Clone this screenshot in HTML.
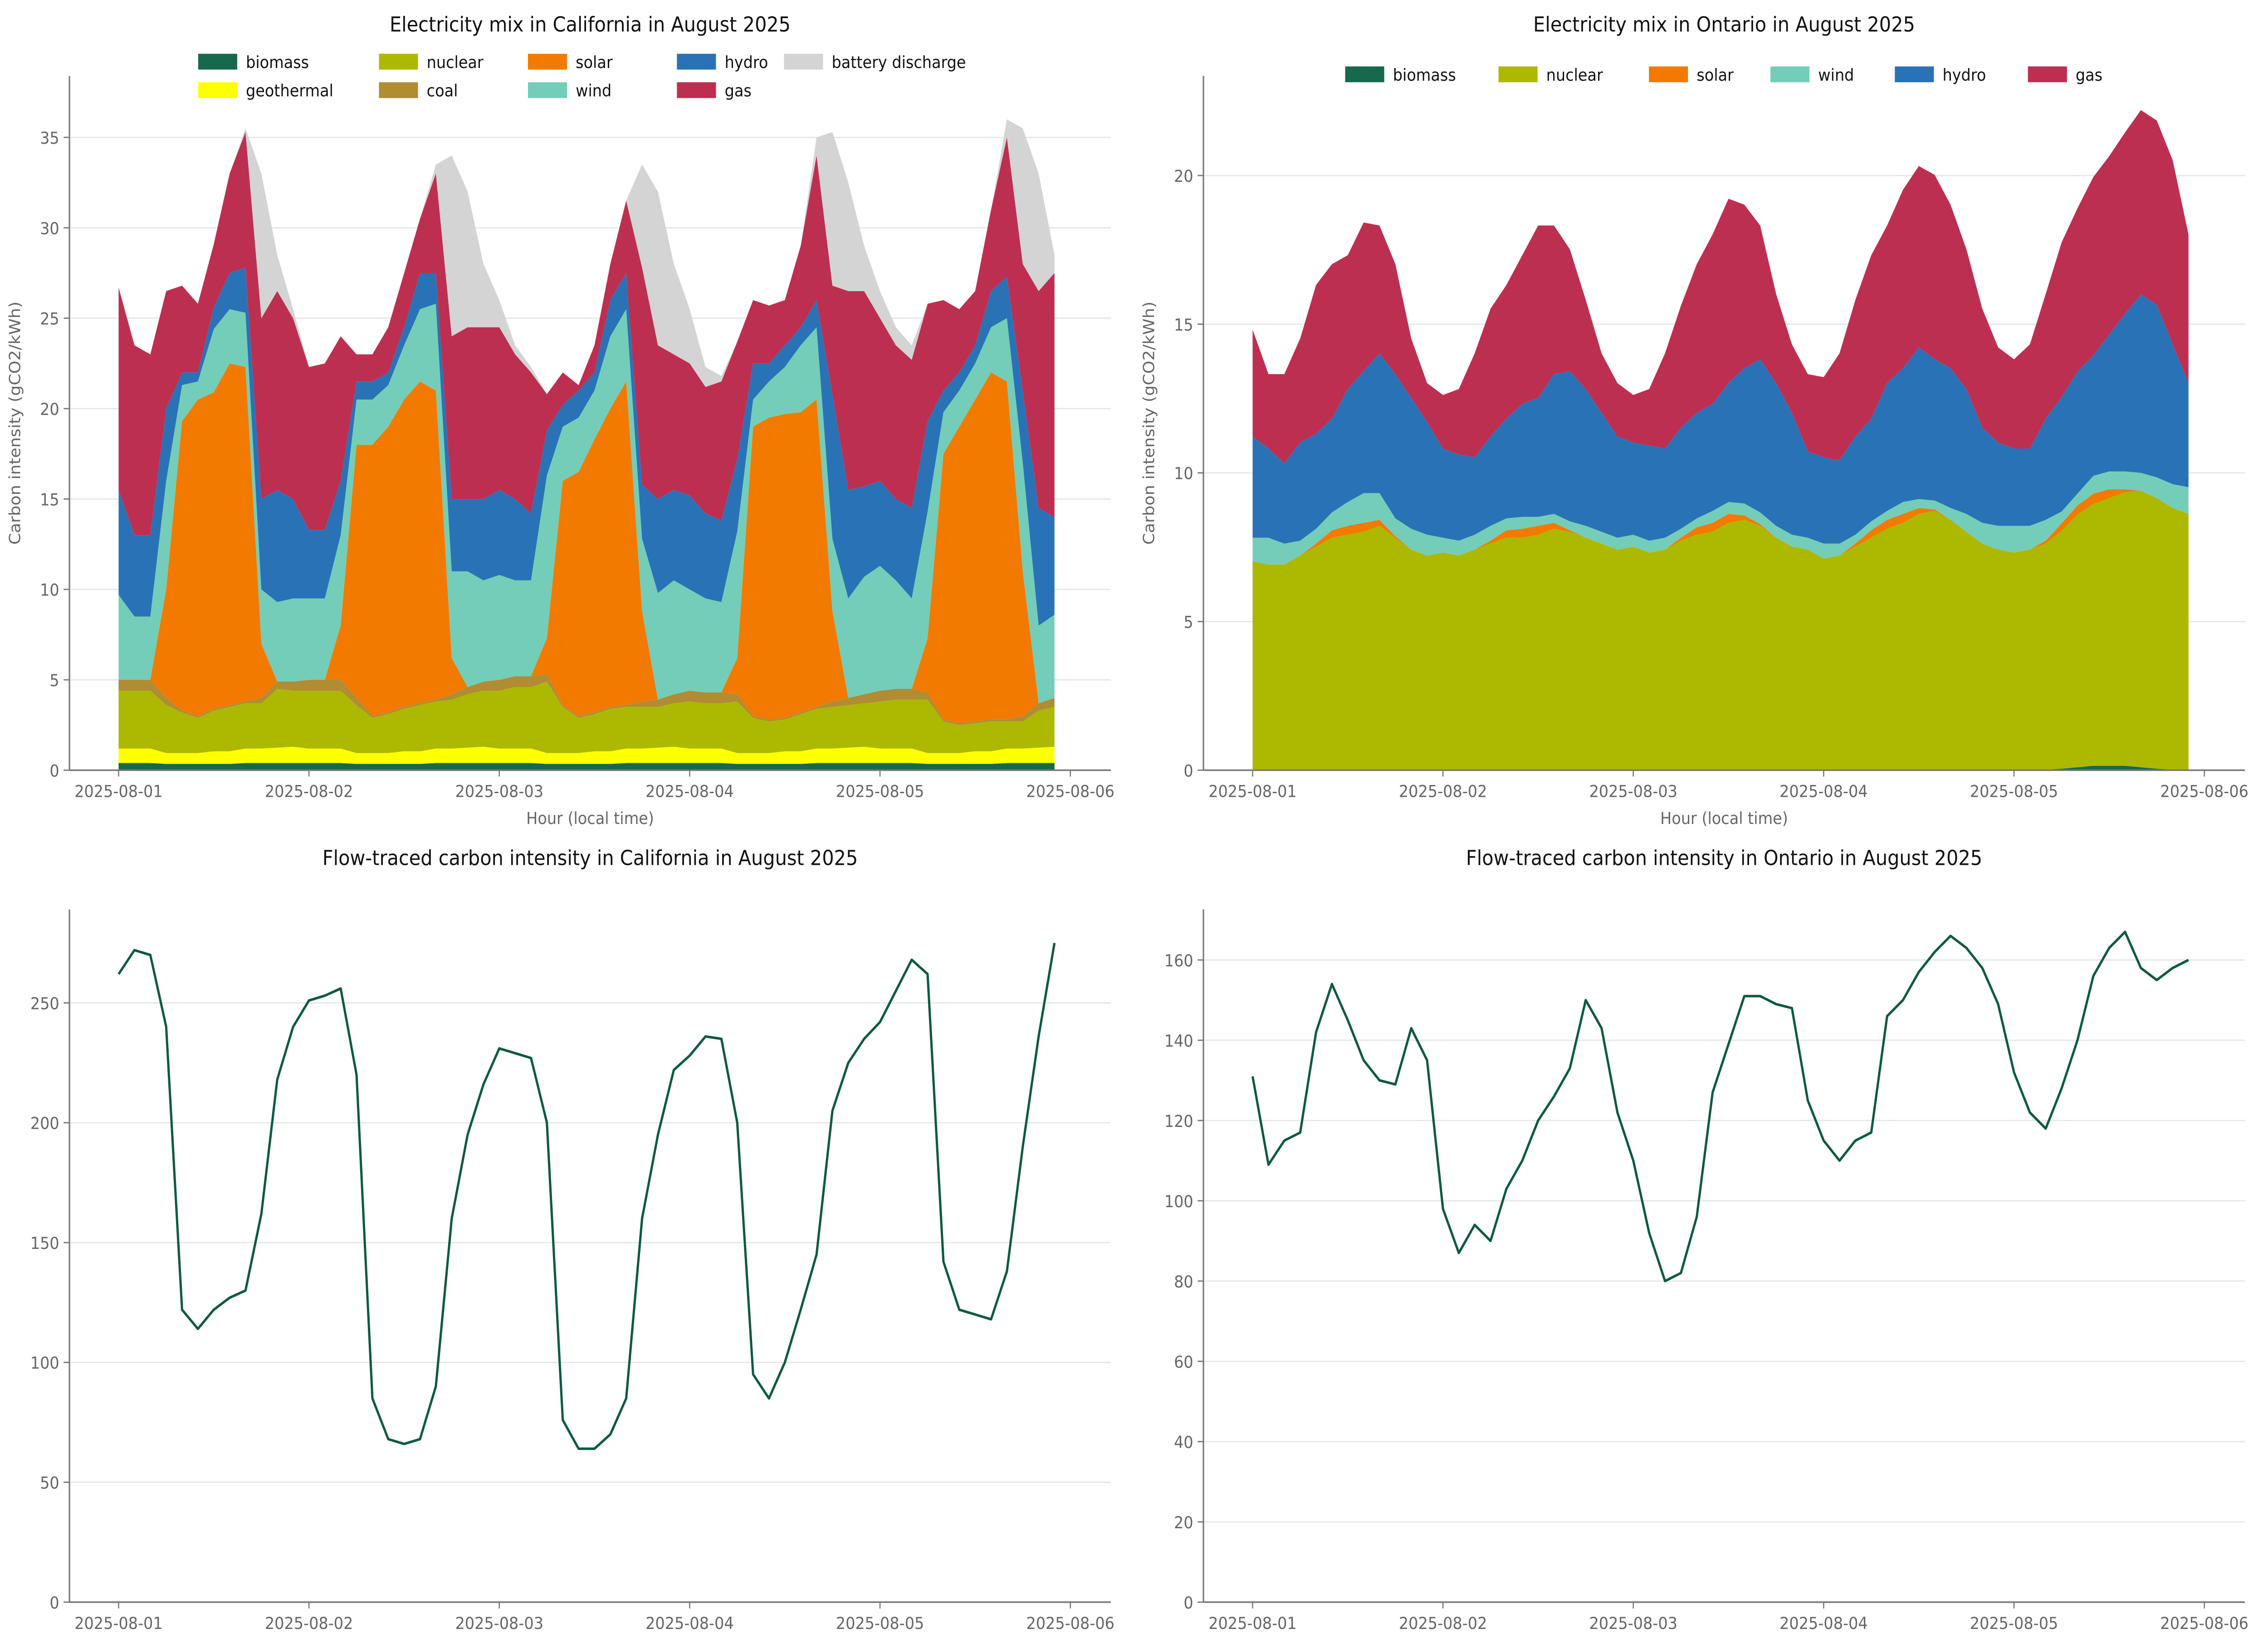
<!DOCTYPE html>
<html><head><meta charset="utf-8"><style>
html,body{margin:0;padding:0;background:#fff;overflow:hidden;width:100%;height:100%;}
svg{display:block;position:absolute;left:0;top:0;width:100vw;height:100vh;font-family:"DejaVu Sans","Liberation Sans",sans-serif;}
</style></head><body>
<svg id="fig" viewBox="0 0 1568 1042" preserveAspectRatio="none" xmlns="http://www.w3.org/2000/svg"></svg>
<script>
// ---------- data ----------
const xTickLabels = ["2025-08-01","2025-08-02","2025-08-03","2025-08-04","2025-08-05","2025-08-06"];
const xTickHours = [0,24,48,72,96,120];
const hours2 = [0,2,4,6,8,10,12,14,16,18,20,22,24,26,28,30,32,34,36,38,40,42,44,46,48,50,52,54,56,58,60,62,64,66,68,70,72,74,76,78,80,82,84,86,88,90,92,94,96,98,100,102,104,106,108,110,112,114,116,118];

// California stacked (gCO2/kWh)
const caBiomass = [.4,.4,.4,.35,.35,.35,.35,.35,.4,.4,.4,.4, .4,.4,.4,.35,.35,.35,.35,.35,.4,.4,.4,.4, .4,.4,.4,.35,.35,.35,.35,.35,.4,.4,.4,.4, .4,.4,.4,.35,.35,.35,.35,.35,.4,.4,.4,.4, .4,.4,.4,.35,.35,.35,.35,.35,.4,.4,.4,.4];
const caGeothermal = [.8,.8,.8,.6,.6,.6,.7,.7,.8,.8,.85,.9, .8,.8,.8,.6,.6,.6,.7,.7,.8,.8,.85,.9, .8,.8,.8,.6,.6,.6,.7,.7,.8,.8,.85,.9, .8,.8,.8,.6,.6,.6,.7,.7,.8,.8,.85,.9, .8,.8,.8,.6,.6,.6,.7,.7,.8,.8,.85,.9];
const caNuclear = [3.2,3.2,3.2,2.65,2.25,1.95,2.25,2.45,2.5,2.5,3.25,3.1, 3.2,3.2,3.2,2.65,1.95,2.15,2.35,2.55,2.6,2.7,2.95,3.1, 3.2,3.4,3.4,3.95,2.55,1.95,2.05,2.35,2.3,2.3,2.25,2.4, 2.6,2.5,2.5,2.85,1.95,1.75,1.75,2.05,2.2,2.3,2.35,2.4, 2.6,2.7,2.7,2.95,1.75,1.55,1.55,1.65,1.5,1.5,2.05,2.2];
const caCoal = [.6,.6,.6,.4,.1,.1,.1,.1,.1,.3,.4,.5, .6,.6,.6,.4,.1,.1,.1,.1,.1,.3,.4,.5, .6,.6,.6,.4,.1,.1,.1,.1,.1,.3,.4,.5, .6,.6,.6,.4,.1,.1,.1,.1,.1,.3,.4,.5, .6,.6,.6,.4,.1,.1,.1,.1,.1,.3,.4,.5];
const caSolar = [0,0,0,6,16,17.5,17.5,18.9,18.5,3,0,0, 0,0,3,14,15,15.8,17,17.8,17.1,2,0,0, 0,0,0,2,12.4,13.5,15.1,16.5,17.9,5,0,0, 0,0,0,2,16,16.7,16.8,16.6,17,5,0,0, 0,0,0,3,14.7,16.4,17.8,19.2,18.7,8,0,0];
const caWind = [4.7,3.5,3.5,6,2,1,3.5,3,3,3,4.4,4.6, 4.5,4.5,5,2.5,2.5,2.3,3,4,4.8,4.8,6.4,5.6, 5.8,5.3,5.3,9,3,3,2.7,4,4,4,5.9,6.3, 5.6,5.2,5,7,1.5,2,2.6,3.7,4,4,5.5,6.5, 6.9,6,5,7,2.3,2,2,2.5,3.5,6,4.3,4.6];
const caHydro = [5.8,4.5,4.5,4,0.7,0.5,1.2,2,2.5,5,6.2,5.5, 3.8,3.8,3,1,1,0.7,1,2,1.7,4,4,4.5, 4.7,4.5,3.7,2.5,1.2,1.5,1,2,2,3,5.2,5, 5.2,4.7,4.5,4,2,1,1.2,1,1.5,8,6,5, 4.7,4.5,5,5,1.2,1,1,2,2.3,4,6.5,5.4];
const caGas = [11.2,10.5,10,6.5,4.8,3.8,3.5,5.5,7.5,10,11,10, 9,9.2,8,1.5,1.5,2.5,3,3,5.5,9,9.5,9.5, 9,8,7.8,2,1.8,0.3,1.5,2,4,12,8.5,7.5, 7.3,7,7.7,6.5,3.5,3.2,2.5,4.5,8,6,11,10.8, 9,8.5,8.2,6.5,5,3.5,3,4.5,7.7,7,12,13.5];
const caBattery = [0,0,0,0,0,0,0,0,0.2,8,2,0.5, 0,0,0,0,0,0,0,0,0.5,10,7.5,3.5, 1.5,0.5,0.3,0,0,0,0,0,0,5.7,8.5,5, 3,1.1,0.3,0,0,0,0,0,1,8.5,6,2.5, 1.5,1,0.8,0,0,0,0,0,1,7.5,6.5,1];

// Ontario stacked
const onBiomass = [.02,.02,.02,.02,.02,.02,.02,.02,.02,.02,.02,.02,.02,.02,.02,.02,.02,.02,.02,.02,.02,.02,.02,.02,.02,.02,.02,.02,.02,.02,.02,.02,.02,.02,.02,.02,.02,.02,.02,.02,.02,.02,.02,.02,.02,.02,.02,.02,.02,.02,.02,.05,.1,.15,.15,.15,.1,.05,.02,.02];
const onNuclear = [7.0,6.9,6.9,7.2,7.5,7.8,7.9,8.0,8.2,7.8,7.4,7.2,7.3,7.2,7.4,7.6,7.8,7.8,7.9,8.1,8.0,7.8,7.6,7.4,7.5,7.3,7.4,7.7,7.9,8.0,8.3,8.4,8.2,7.8,7.5,7.4,7.1,7.2,7.5,7.8,8.1,8.3,8.6,8.7,8.4,8.0,7.6,7.4,7.3,7.4,7.6,8.0,8.5,8.8,9.0,9.2,9.3,9.1,8.8,8.6];
const onSolar = [0,0,0,0,0.1,0.25,0.3,0.3,0.2,0.05,0,0,0,0,0,0.1,0.25,0.3,0.3,0.2,0.05,0,0,0,0,0,0,0.1,0.25,0.3,0.3,0.15,0.05,0,0,0,0,0,0.1,0.25,0.3,0.3,0.2,0.05,0,0,0,0,0,0,0.1,0.25,0.3,0.35,0.3,0.1,0,0,0,0];
const onWind = [0.8,0.9,0.7,0.5,0.5,0.6,0.8,1.0,0.9,0.6,0.7,0.7,0.5,0.5,0.5,0.5,0.4,0.4,0.3,0.3,0.3,0.4,0.4,0.4,0.4,0.4,0.4,0.3,0.3,0.4,0.4,0.4,0.4,0.4,0.4,0.4,0.5,0.4,0.3,0.3,0.3,0.4,0.3,0.3,0.4,0.6,0.7,0.8,0.9,0.8,0.7,0.4,0.4,0.6,0.6,0.6,0.6,0.7,0.8,0.9];
const onHydro = [3.4,3.0,2.7,3.3,3.2,3.15,3.8,4.1,4.7,4.85,4.4,3.8,3.0,2.9,2.6,3.0,3.35,3.8,4.0,4.7,5.05,4.6,4.0,3.4,3.1,3.2,3.0,3.4,3.55,3.6,4.0,4.55,5.15,4.8,4.1,2.9,2.9,2.8,3.3,3.45,4.3,4.5,5.1,4.75,4.7,4.2,3.2,2.8,2.6,2.6,3.4,3.85,4.1,4.05,4.6,5.3,6.0,5.8,4.7,3.5];
const onGas = [3.6,2.5,3.0,3.5,5.0,5.2,4.5,5.0,4.3,3.7,2.0,1.3,1.8,2.2,3.5,4.3,4.5,5.0,5.8,5.0,4.1,3.0,2.0,1.8,1.6,1.9,3.2,4.1,5.0,5.7,6.2,5.5,4.5,3.0,2.3,2.6,2.7,3.6,4.6,5.5,5.3,6.0,6.1,6.2,5.5,4.7,4.0,3.2,3.0,3.5,4.2,5.2,5.5,6.0,6.0,6.1,6.2,6.2,6.2,5.0];

// Flow-traced lines
const caFlow = [262,272,270,240,122,114,122,127,130,162,218,240,251,253,256,220,85,68,66,68,90,160,195,216,231,229,227,200,76,64,64,70,85,160,195,222,228,236,235,200,95,85,100,122,145,205,225,235,242,255,268,262,142,122,120,118,138,190,236,275];
const onFlow = [131,109,115,117,142,154,145,135,130,129,143,135,98,87,94,90,103,110,120,126,133,150,143,122,110,92,80,82,96,127,139,151,151,149,148,125,115,110,115,117,146,150,157,162,166,163,158,149,132,122,118,128,140,156,163,167,158,155,158,160];

// ---------- drawing ----------
const NS="http://www.w3.org/2000/svg";
const svg=document.getElementById('fig');
function el(tag,attrs,parent){const e=document.createElementNS(NS,tag);for(const k in attrs)e.setAttribute(k,attrs[k]);(parent||svg).appendChild(e);return e;}
function txt(s,attrs,parent){const e=el('text',attrs,parent);e.textContent=s;return e;}

function makeAxes(cfg){
  const g=el('g',{});
  
  
  const xs=h=>cfg.x0+(h/120)*(cfg.x120-cfg.x0);
  const ys=v=>cfg.yBottom-(v-0)/(cfg.ymax)*(cfg.yBottom-cfg.yTop);
  cfg.yTicks.forEach(v=>{
    if(v>0){const l=el('line',{x1:cfg.left,x2:cfg.right,y1:ys(v),y2:ys(v),stroke:'#e6e6e6','stroke-width':0.8},g);
      }
  });
  return {g,xs,ys};
}
function finishAxes(cfg,ax){
  const g=ax.g;
  const sp1=el('line',{x1:cfg.left,x2:cfg.left,y1:cfg.yTop,y2:cfg.yBottom,stroke:'#777','stroke-width':1},g);
  
  const sp2=el('line',{x1:cfg.left,x2:cfg.right,y1:cfg.yBottom,y2:cfg.yBottom,stroke:'#777','stroke-width':1},g);
  
  cfg.yTicks.forEach(v=>{
    const y=ax.ys(v);
    el('line',{x1:cfg.left-4,x2:cfg.left,y1:y,y2:y,stroke:'#777','stroke-width':0.8},g);
    const t=txt(String(v),{x:cfg.left-7,y:y+4,'font-size':10.5,fill:'#666','text-anchor':'end'},g);
    
  });
  xTickHours.forEach((h,i)=>{
    const x=ax.xs(h);
    el('line',{x1:x,x2:x,y1:cfg.yBottom,y2:cfg.yBottom+4,stroke:'#777','stroke-width':0.8},g);
    const t=txt(xTickLabels[i],{x:x,y:cfg.yBottom+17,'font-size':10.5,fill:'#666','text-anchor':'middle'},g);
    
  });
  const tt=txt(cfg.title,{x:(cfg.left+cfg.right)/2,y:cfg.yTop-28,'font-size':13,fill:'#111','text-anchor':'middle'},g);
  
  if(cfg.xlabel){const xl=txt(cfg.xlabel,{x:(cfg.left+cfg.right)/2,y:cfg.yBottom+34,'font-size':10.5,fill:'#666','text-anchor':'middle'},g);
    }
  if(cfg.ylabel){const cx=cfg.left-34,cy=(cfg.yTop+cfg.yBottom)/2;
    const yl=txt(cfg.ylabel,{x:cx,y:cy,'font-size':10.5,fill:'#666','text-anchor':'middle',transform:`rotate(-90 ${cx} ${cy})`},g);
    }
}
function stacked(cfg,series){
  const ax=makeAxes(cfg);
  const base=hours2.map(()=>0);
  series.forEach(s=>{
    const top=base.map((b,i)=>b+s.values[i]);
    let d='M'+hours2.map((h,i)=>ax.xs(h).toFixed(2)+','+ax.ys(top[i]).toFixed(2)).join('L');
    for(let i=hours2.length-1;i>=0;i--)d+='L'+ax.xs(hours2[i]).toFixed(2)+','+ax.ys(base[i]).toFixed(2);
    d+='Z';
    const p=el('path',{d,fill:s.color,stroke:'none'},ax.g);
    
    
    top.forEach((v,i)=>base[i]=v);
  });
  finishAxes(cfg,ax);
}
function line(cfg,values){
  const ax=makeAxes(cfg);
  const d='M'+values.map((v,i)=>ax.xs(hours2[i]).toFixed(2)+','+ax.ys(v).toFixed(2)).join('L');
  const p=el('path',{d,fill:'none',stroke:'#0e5a3e','stroke-width':1.6,'stroke-linejoin':'round'},ax.g);
  
  
  finishAxes(cfg,ax);
}
function legend(items,name){
  const g=el('g',{});
  
  
  items.forEach(it=>{
    const r=el('rect',{x:it.x,y:it.y-5,width:27,height:10,fill:it.color},g);
    
    const t=txt(it.label,{x:it.x+33,y:it.y+4,'font-size':10.5,fill:'#111'},g);
    
  });
}
const C={biomass:'#17694d',geothermal:'#ffff00',nuclear:'#adb800',coal:'#b08c33',solar:'#f27a00',wind:'#74cdb8',hydro:'#2a72b6',gas:'#bd2f50',battery:'#d4d4d4'};

stacked({name:'california-mix-chart',left:48,right:768,yTop:48,yBottom:487,x0:82,x120:740,ymax:38.4,yTicks:[0,5,10,15,20,25,30,35],
  title:'Electricity mix in California in August 2025',xlabel:'Hour (local time)',ylabel:'Carbon intensity (gCO2/kWh)'},
  [{label:'biomass',values:caBiomass,color:C.biomass},{label:'geothermal',values:caGeothermal,color:C.geothermal},
   {label:'nuclear',values:caNuclear,color:C.nuclear},{label:'coal',values:caCoal,color:C.coal},
   {label:'solar',values:caSolar,color:C.solar},{label:'wind',values:caWind,color:C.wind},
   {label:'hydro',values:caHydro,color:C.hydro},{label:'gas',values:caGas,color:C.gas},
   {label:'battery discharge',values:caBattery,color:C.battery}]);
stacked({name:'ontario-mix-chart',left:832,right:1552,yTop:48,yBottom:487,x0:866,x120:1524,ymax:23.35,yTicks:[0,5,10,15,20],
  title:'Electricity mix in Ontario in August 2025',xlabel:'Hour (local time)',ylabel:'Carbon intensity (gCO2/kWh)'},
  [{label:'biomass',values:onBiomass,color:C.biomass},{label:'nuclear',values:onNuclear,color:C.nuclear},
   {label:'solar',values:onSolar,color:C.solar},{label:'wind',values:onWind,color:C.wind},
   {label:'hydro',values:onHydro,color:C.hydro},{label:'gas',values:onGas,color:C.gas}]);
line({name:'california-flow-chart',left:48,right:768,yTop:575,yBottom:1013,x0:82,x120:740,ymax:289,yTicks:[0,50,100,150,200,250],
  title:'Flow-traced carbon intensity in California in August 2025'},caFlow);
line({name:'ontario-flow-chart',left:832,right:1552,yTop:575,yBottom:1013,x0:866,x120:1524,ymax:172.6,yTicks:[0,20,40,60,80,100,120,140,160],
  title:'Flow-traced carbon intensity in Ontario in August 2025'},onFlow);

legend([{x:137,y:39,label:'biomass',color:C.biomass},{x:137,y:57,label:'geothermal',color:C.geothermal},
  {x:262,y:39,label:'nuclear',color:C.nuclear},{x:262,y:57,label:'coal',color:C.coal},
  {x:365,y:39,label:'solar',color:C.solar},{x:365,y:57,label:'wind',color:C.wind},
  {x:468,y:39,label:'hydro',color:C.hydro},{x:468,y:57,label:'gas',color:C.gas},
  {x:542,y:39,label:'battery discharge',color:C.battery}],'california-legend');
legend([{x:930,y:47,label:'biomass',color:C.biomass},{x:1036,y:47,label:'nuclear',color:C.nuclear},
  {x:1140,y:47,label:'solar',color:C.solar},{x:1224,y:47,label:'wind',color:C.wind},
  {x:1310,y:47,label:'hydro',color:C.hydro},{x:1402,y:47,label:'gas',color:C.gas}],'ontario-legend');
</script>
</body></html>
